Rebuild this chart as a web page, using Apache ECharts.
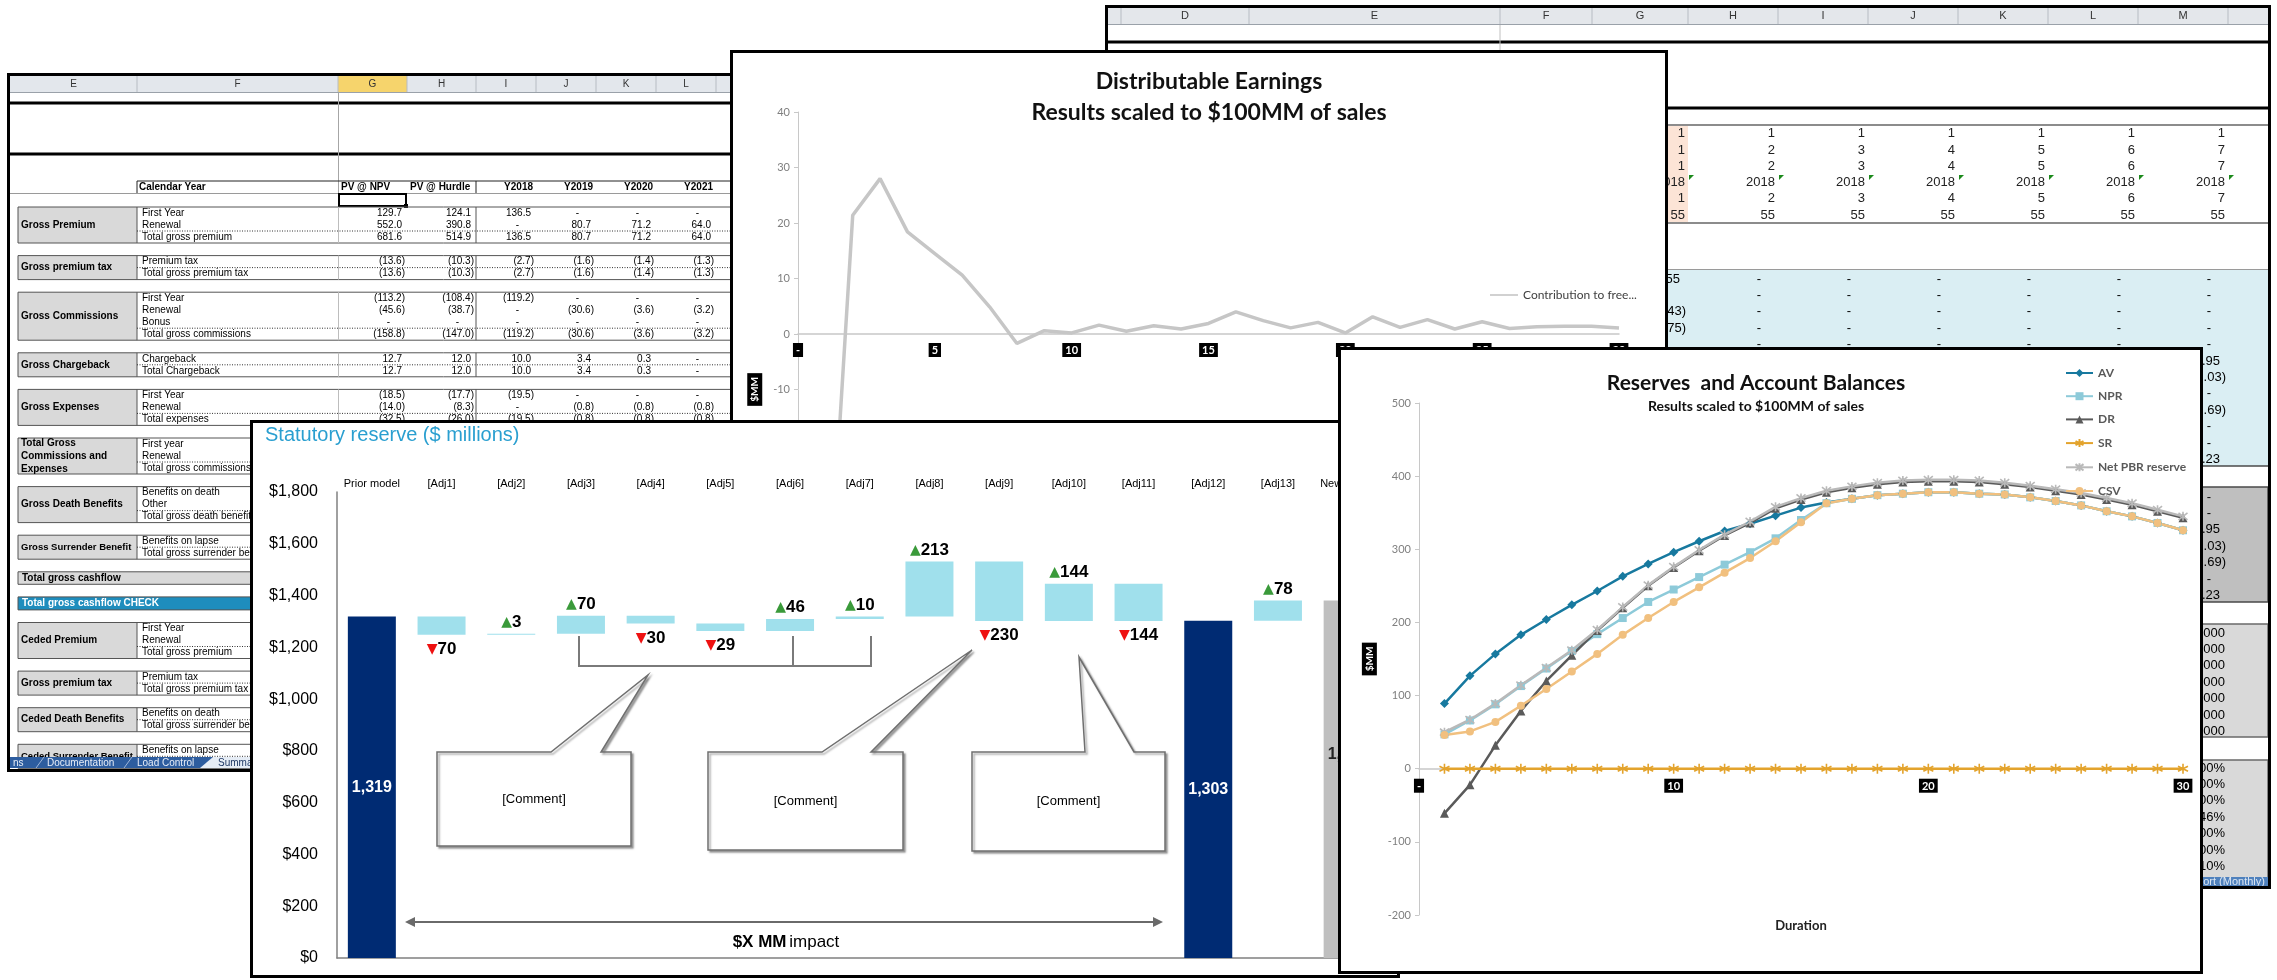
<!DOCTYPE html>
<html>
<head>
<meta charset="utf-8">
<title>Reserve and earnings summary</title>
<script src="https://cdn.jsdelivr.net/npm/echarts@6.0.0/dist/echarts.min.js"></script>
<style>
  html, body { margin: 0; padding: 0; background: #fff; }
  body { width: 2277px; height: 980px; position: relative; overflow: hidden; }
  .panel { position: absolute; box-sizing: border-box; border: 3px solid #000; background: #fff; }
</style>
</head>
<body>
<div id="sheetR" class="panel" style="left:1105px;top:5px;width:1166px;height:884px;z-index:1"></div>
<div id="sheetL" class="panel" style="left:7px;top:73px;width:745px;height:699px;z-index:2"></div>
<div id="de" class="panel" style="left:730px;top:50px;width:938px;height:760px;z-index:3"></div>
<div id="wf" class="panel" style="left:250px;top:420px;width:1150px;height:558px;z-index:4"></div>
<div id="rs" class="panel" style="left:1338px;top:347px;width:865px;height:627px;z-index:5"></div>
<script>
// ---------------- data ----------------

// Statutory reserve walk ($ millions)
const wfCategories = ['Prior model', '[Adj1]', '[Adj2]', '[Adj3]', '[Adj4]', '[Adj5]', '[Adj6]', '[Adj7]',
  '[Adj8]', '[Adj9]', '[Adj10]', '[Adj11]', '[Adj12]', '[Adj13]', 'New model'];
const wfChanges = [null, -70, 3, 70, -30, -29, 46, 10, 213, -230, 144, -144, null, 78, null];
const wfTotals  = [1319, null, null, null, null, null, null, null, null, null, null, null, 1303, null, 1381];
const wfAxisMax = 1800;
const wfAxisStep = 200;

// Distributable earnings by duration
const deDurations = [1, 2, 3, 4, 5, 6, 7, 8, 9, 10, 11, 12, 13, 14, 15, 16, 17, 18, 19, 20, 21, 22, 23, 24, 25, 26, 27, 28, 29, 30];
const deContribution = [-58, 21.4, 28.0, 18.4, 14.5, 10.6, 4.9, -1.7, 0.6, 0.2, 1.6, 0.5, 1.5, 0.9, 1.9,
  4.0, 2.4, 1.1, 2.1, 0.2, 3.1, 1.2, 2.6, 0.9, 2.2, 1.0, 1.3, 1.4, 1.4, 1.1];
const deYMin = -60, deYMax = 40;

// Reserves and account balances by duration
const rsDurations = deDurations;
const rsAV  = [89, 127, 157, 183, 204, 224, 243, 263, 280, 296, 311, 325, 335, 346, 357, 364, 369, 374, 376, 378, 378, 376, 375, 371, 366, 360, 352, 345, 336, 326];
const rsNPR = [47, 66, 88, 113, 137, 161, 184, 206, 228, 245, 262, 279, 296, 315, 340, 363, 369, 374, 376, 378, 378, 376, 375, 371, 366, 360, 352, 345, 336, 326];
const rsDR  = [-61, -22, 32, 79, 120, 155, 189, 220, 250, 275, 298, 319, 336, 356, 368, 378, 384, 389, 392, 393, 393, 392, 389, 385, 380, 375, 368, 361, 352, 343];
const rsSR  = [0, 0, 0, 0, 0, 0, 0, 0, 0, 0, 0, 0, 0, 0, 0, 0, 0, 0, 0, 0, 0, 0, 0, 0, 0, 0, 0, 0, 0, 0];
const rsPBR = [50, 67, 89, 114, 138, 162, 190, 221, 251, 276, 299, 320, 338, 358, 370, 380, 386, 391, 394, 395, 395, 394, 391, 387, 382, 377, 370, 363, 354, 345];
const rsCSV = [46, 51, 64, 86, 109, 133, 157, 183, 206, 228, 248, 268, 288, 311, 337, 363, 369, 374, 376, 378, 378, 376, 375, 371, 366, 360, 352, 345, 336, 326];
const rsYMin = -200, rsYMax = 500;

// Summary worksheet (left)
const sheetColumns = ['E', 'F', 'G', 'H', 'I', 'J', 'K', 'L', 'M'];
const sheetHeaders = ['PV @ NPV', 'PV @ Hurdle', 'Y2018', 'Y2019', 'Y2020', 'Y2021'];
const sheetGroups = [
  { label: 'Gross Premium', rows: [
    ['First Year', '129.7', '124.1', '136.5', '-', '-', '-'],
    ['Renewal', '552.0', '390.8', '-', '80.7', '71.2', '64.0'],
    ['Total gross premium', '681.6', '514.9', '136.5', '80.7', '71.2', '64.0']] },
  { label: 'Gross premium tax', rows: [
    ['Premium tax', '(13.6)', '(10.3)', '(2.7)', '(1.6)', '(1.4)', '(1.3)'],
    ['Total gross premium tax', '(13.6)', '(10.3)', '(2.7)', '(1.6)', '(1.4)', '(1.3)']] },
  { label: 'Gross Commissions', rows: [
    ['First Year', '(113.2)', '(108.4)', '(119.2)', '-', '-', '-'],
    ['Renewal', '(45.6)', '(38.7)', '-', '(30.6)', '(3.6)', '(3.2)'],
    ['Bonus', '-', '-', '-', '-', '-', '-'],
    ['Total gross commissions', '(158.8)', '(147.0)', '(119.2)', '(30.6)', '(3.6)', '(3.2)']] },
  { label: 'Gross Chargeback', rows: [
    ['Chargeback', '12.7', '12.0', '10.0', '3.4', '0.3', '-'],
    ['Total Chargeback', '12.7', '12.0', '10.0', '3.4', '0.3', '-']] },
  { label: 'Gross Expenses', rows: [
    ['First Year', '(18.5)', '(17.7)', '(19.5)', '-', '-', '-'],
    ['Renewal', '(14.0)', '(8.3)', '-', '(0.8)', '(0.8)', '(0.8)'],
    ['Total expenses', '(32.5)', '(26.0)', '(19.5)', '(0.8)', '(0.8)', '(0.8)']] },
  { label: 'Total Gross\nCommissions and\nExpenses', rows: [['First year'], ['Renewal'], ['Total gross commissions and expenses']] },
  { label: 'Gross Death Benefits', rows: [['Benefits on death'], ['Other'], ['Total gross death benefits']] },
  { label: 'Gross Surrender Benefit', fs: 9.5, rows: [['Benefits on lapse'], ['Total gross surrender benefits']] },
  { band: 'Total gross cashflow', fill: '#d9d9d9', color: '#000' },
  { band: 'Total gross cashflow CHECK', fill: '#1e8dbd', color: '#fff' },
  { label: 'Ceded Premium', rows: [['First Year'], ['Renewal'], ['Total gross premium']] },
  { label: 'Gross premium tax', rows: [['Premium tax'], ['Total gross premium tax']] },
  { label: 'Ceded Death Benefits', rows: [['Benefits on death'], ['Total gross surrender benefits']] },
  { label: 'Ceded Surrender Benefit', fs: 9.5, rows: [['Benefits on lapse'], ['Total gross surrender benefits']] }
];
const sheetTabs = ['ns', 'Documentation', 'Load Control', 'Summary'];

// Projection worksheet (right)
const projColumns = ['', 'D', 'E', 'F', 'G', 'H', 'I', 'J', 'K', 'L', 'M', 'N'];
const projIndexRows = [
  ['1', '1', '1', '1', '1', '1', '1'],
  ['1', '2', '3', '4', '5', '6', '7'],
  ['1', '2', '3', '4', '5', '6', '7'],
  ['2018', '2018', '2018', '2018', '2018', '2018', '2018'],
  ['1', '2', '3', '4', '5', '6', '7'],
  ['55', '55', '55', '55', '55', '55', '55']
];
const projBlueRows = [
  ['0.55', '-', '-', '-', '-', '-', '-'],
  ['', '-', '-', '-', '-', '-', '-'],
  ['(0.43)', '-', '-', '-', '-', '-', '-'],
  ['(0.75)', '-', '-', '-', '-', '-', '-'],
  ['', '-', '-', '-', '-', '-', '-'],
  ['-', '-', '-', '-', '-', '-', '1.95'],
  ['-', '-', '-', '-', '-', '-', '(0.03)'],
  ['-', '-', '-', '-', '-', '-', '-'],
  ['-', '-', '-', '-', '-', '-', '(0.69)'],
  ['-', '-', '-', '-', '-', '-', '-'],
  ['-', '-', '-', '-', '-', '-', '-'],
  ['-', '-', '-', '-', '-', '-', '1.23']
];
const projGrayRows = ['-', '-', '1.95', '(0.03)', '(0.69)', '-', '1.23'];
const projFactorRows = ['1.000', '1.000', '1.000', '1.000', '1.000', '1.000', '1.000'];
const projPctRows = ['100%', '100%', '100%', '46%', '100%', '100%', '10%'];

// ---------------- helpers ----------------
const ARIAL = '"Liberation Sans", Arial, sans-serif';
const NARROW = '"Liberation Sans Narrow", "Liberation Sans", sans-serif';
const CAL = 'Lato, "Open Sans", sans-serif';

// Collects graphic elements given in page coordinates, shifted into a panel's own space.
function shapeSet(ox, oy) {
  const els = [];
  let k = 0;
  return {
    els,
    rect(x, y, w, h, style) {
      els.push({ type: 'rect', silent: true, z2: k++, shape: { x: x - ox, y: y - oy, width: w, height: h }, style });
    },
    line(x1, y1, x2, y2, style) {
      els.push({ type: 'line', silent: true, z2: k++, shape: { x1: x1 - ox, y1: y1 - oy, x2: x2 - ox, y2: y2 - oy }, style });
    },
    poly(pts, style, closed) {
      els.push({ type: closed ? 'polygon' : 'polyline', silent: true, z2: k++,
        shape: { points: pts.map(p => [p[0] - ox, p[1] - oy]) }, style });
    },
    text(x, y, str, style) {
      els.push({ type: 'text', silent: true, z2: k++, x: x - ox, y: y - oy,
        style: Object.assign({ text: str, fill: '#000', align: 'left', verticalAlign: 'middle',
          fontFamily: ARIAL, fontSize: 10 }, style) });
    }
  };
}

// Accounting-style placement of a cell value against its column's right edge.
function cellValue(s, right, y, v, font, size, posPad) {
  if (!v) return;
  let x;
  if (v === '-') x = right - 17;
  else if (v.endsWith(')')) x = right - 2;
  else x = right - posPad;
  s.text(x, y, v, { align: 'right', fontFamily: font, fontSize: size });
}

// ---------------- right worksheet ----------------
(function () {
  const s = shapeSet(1108, 8);
  const edges = [1108, 1121, 1249, 1500, 1592, 1688, 1778, 1868, 1958, 2048, 2138, 2228, 2318];
  s.rect(1108, 8, 1160, 16, { fill: '#e4e7eb' });
  for (let i = 0; i < projColumns.length; i++) {
    s.line(edges[i + 1], 8, edges[i + 1], 24, { stroke: '#b7bcc3', lineWidth: 1 });
    if (projColumns[i]) s.text((edges[i] + edges[i + 1]) / 2, 16, projColumns[i],
      { align: 'center', fill: '#333', fontSize: 11 });
  }
  s.line(1108, 24.5, 2268, 24.5, { stroke: '#9aa1a9', lineWidth: 1 });
  s.line(1108, 42, 2268, 42, { stroke: '#000', lineWidth: 3 });
  s.line(1500, 25, 1500, 108, { stroke: '#c0c0c0', lineWidth: 1 });
  s.line(1108, 108, 2268, 108, { stroke: '#000', lineWidth: 3 });

  // index block
  s.rect(1592, 126, 96, 97, { fill: '#fce4d6' });
  s.line(1108, 125, 2268, 125, { stroke: '#8c8c8c', lineWidth: 2 });
  s.line(1108, 223, 2268, 223, { stroke: '#8c8c8c', lineWidth: 2 });
  const idxY = [133, 150, 166, 182, 198, 215];
  projIndexRows.forEach((row, r) => {
    row.forEach((v, c) => {
      s.text(edges[c + 5] - 3, idxY[r], v, { align: 'right', fontFamily: NARROW, fontSize: 13, fill: '#222' });
      if (r === 3) {
        const gx = edges[c + 5] + 1;
        s.poly([[gx, 175], [gx + 5, 175], [gx, 180]], { fill: '#1c8a1c' }, true);
      }
    });
  });

  // shaded result blocks
  s.line(1108, 269.5, 2268, 269.5, { stroke: '#9a9a9a', lineWidth: 1 });
  s.rect(1108, 270, 1160, 196, { fill: '#daeef3' });
  s.line(1108, 466, 2268, 466, { stroke: '#4a4a4a', lineWidth: 1.5 });
  projBlueRows.forEach((row, r) => {
    row.forEach((v, c) => cellValue(s, edges[c + 5], 279 + 16.4 * r, v, NARROW, 13, 8));
  });

  s.rect(1108, 487, 1160, 115, { fill: '#bfbfbf', stroke: '#4a4a4a', lineWidth: 1.5 });
  projGrayRows.forEach((v, r) => {
    for (let c = 1; c < 6; c++) cellValue(s, edges[c + 5], 497 + 16.4 * r, '-', NARROW, 13, 8);
    cellValue(s, edges[11], 497 + 16.4 * r, v, NARROW, 13, 8);
  });

  s.rect(1108, 624, 1160, 113, { fill: '#d9d9d9', stroke: '#6a6a6a', lineWidth: 1.5 });
  projFactorRows.forEach((v, r) => {
    for (let c = 1; c < 7; c++) s.text(edges[c + 5] - 3, 633 + 16.4 * r, v, { align: 'right', fontFamily: NARROW, fontSize: 13 });
  });

  s.rect(1108, 760, 1160, 118, { fill: '#d9d9d9', stroke: '#6a6a6a', lineWidth: 1.5 });
  projPctRows.forEach((v, r) => {
    for (let c = 1; c < 7; c++) s.text(edges[c + 5] - 3, 768 + 16.4 * r, v, { align: 'right', fontFamily: NARROW, fontSize: 13 });
  });

  // sheet tab strip
  s.rect(1108, 877, 1160, 10, { fill: '#4f81bd' });
  s.text(2183, 882, 'Report (Monthly)', { fill: '#dce6f2', fontSize: 11 });

  echarts.init(document.getElementById('sheetR'), null, { renderer: 'canvas' })
    .setOption({ animation: false, graphic: { elements: s.els } });
})();

// ---------------- left worksheet ----------------
(function () {
  const s = shapeSet(10, 76);
  const edges = [10, 137, 338, 407, 476, 536, 596, 656, 716, 776];
  const valRight = [407, 476, 536, 596, 656, 716];
  s.rect(10, 76, 740, 16, { fill: '#e3e7ec' });
  s.rect(338, 76, 69, 16, { fill: '#f6d46c' });
  for (let i = 0; i < sheetColumns.length; i++) {
    s.line(edges[i + 1], 76, edges[i + 1], 92, { stroke: '#b7bcc3', lineWidth: 1 });
    s.text((edges[i] + edges[i + 1]) / 2, 84, sheetColumns[i], { align: 'center', fill: '#333', fontSize: 10 });
  }
  s.line(10, 92.5, 750, 92.5, { stroke: '#9aa1a9', lineWidth: 1 });
  s.line(10, 103, 750, 103, { stroke: '#000', lineWidth: 3 });
  s.line(10, 154, 750, 154, { stroke: '#000', lineWidth: 3 });
  s.line(338.5, 93, 338.5, 207, { stroke: '#a6a6a6', lineWidth: 1 });

  // header row
  s.line(137, 181, 750, 181, { stroke: '#222', lineWidth: 1 });
  s.line(10, 193.5, 750, 193.5, { stroke: '#9a9a9a', lineWidth: 1 });
  s.line(137, 181, 137, 193, { stroke: '#222', lineWidth: 1 });
  s.line(476, 181, 476, 193, { stroke: '#222', lineWidth: 1 });
  s.text(139, 187, 'Calendar Year', { fontWeight: 'bold' });
  s.text(341, 187, sheetHeaders[0], { fontWeight: 'bold' });
  s.text(410, 187, sheetHeaders[1], { fontWeight: 'bold' });
  for (let i = 2; i < sheetHeaders.length; i++) s.text(valRight[i] - 3, 187, sheetHeaders[i], { fontWeight: 'bold', align: 'right' });
  s.rect(339, 194, 67, 12, { fill: 'none', stroke: '#000', lineWidth: 2 });
  s.rect(404, 204, 4, 4, { fill: '#000' });

  // grouped rows
  const rowH = 12, gap = 12.6;
  let y = 207;
  sheetGroups.forEach(g => {
    if (g.band) {
      const h = g.band.endsWith('CHECK') ? 13 : 12.5;
      s.rect(18, y, 732, h, { fill: g.fill, stroke: '#555', lineWidth: 1 });
      s.text(22, y + h / 2, g.band, { fontWeight: 'bold', fill: g.color });
      y += h + gap;
      return;
    }
    const h = g.rows.length * rowH;
    s.rect(18, y, 119, h, { fill: '#d9d9d9', stroke: '#555', lineWidth: 1 });
    s.line(137, y, 750, y, { stroke: '#555', lineWidth: 1 });
    s.line(137, y + h, 750, y + h, { stroke: '#555', lineWidth: 1 });
    s.line(338.5, y, 338.5, y + h, { stroke: '#bdbdbd', lineWidth: 1 });
    s.line(476, y, 476, y + h, { stroke: '#555', lineWidth: 1 });
    if (g.rows.length > 1) s.line(137, y + h - rowH, 750, y + h - rowH, { stroke: '#333', lineWidth: 1, lineDash: [1, 1.5] });
    s.text(21, y + h / 2, g.label, { fontWeight: 'bold', fontSize: g.fs || 10, lineHeight: 13 });
    g.rows.forEach((row, r) => {
      const ry = y + rowH / 2 + r * rowH;
      s.text(142, ry, row[0]);
      for (let c = 1; c < row.length; c++) cellValue(s, valRight[c - 1], ry, row[c], ARIAL, 10, 5);
    });
    y += h + gap;
  });

  // sheet tab strip
  s.rect(10, 757, 740, 11, { fill: '#2d5d9f' });
  s.poly([[200, 768], [213, 757], [750, 757], [750, 768]], { fill: '#e6edf6' }, true);
  s.line(36, 768, 44, 757, { stroke: '#9fb6d8', lineWidth: 1 });
  s.line(124, 768, 132, 757, { stroke: '#9fb6d8', lineWidth: 1 });
  s.text(13, 763, sheetTabs[0], { fill: '#e8eef8' });
  s.text(47, 763, sheetTabs[1], { fill: '#e8eef8' });
  s.text(137, 763, sheetTabs[2], { fill: '#e8eef8' });
  s.text(218, 763, sheetTabs[3], { fill: '#1f3864' });

  echarts.init(document.getElementById('sheetL'), null, { renderer: 'canvas' })
    .setOption({ animation: false, graphic: { elements: s.els } });
})();

// Black tag style used for the duration labels and the $MM axis titles
const blackTag = { backgroundColor: '#000', color: '#fff', fontWeight: 'bold', fontFamily: CAL, fontSize: 11, padding: [2, 3, 1, 3] };

// ---------------- distributable earnings ----------------
(function () {
  const gridH = 555;
  // the duration axis sits on the zero line, lifted from the grid's bottom edge
  const zeroLift = gridH * (0 - deYMin) / (deYMax - deYMin);
  const chart = echarts.init(document.getElementById('de'), null, { renderer: 'canvas' });
  chart.setOption({
    animation: false,
    grid: { left: 65, top: 59, width: 821, height: gridH, outerBoundsMode: 'none' },
    title: [
      { text: 'Distributable Earnings', left: 471, top: 12, textAlign: 'center',
        textStyle: { fontFamily: CAL, fontWeight: 'bold', fontSize: 23, color: '#111' } },
      { text: 'Results scaled to $100MM of sales', left: 471, top: 43, textAlign: 'center',
        textStyle: { fontFamily: CAL, fontWeight: 'bold', fontSize: 23, color: '#111' } }
    ],
    legend: {
      left: 752, top: 231, itemWidth: 28, itemHeight: 8, icon: 'path://M0,3.2L28,3.2L28,4.8L0,4.8Z',
      textStyle: { fontFamily: CAL, fontSize: 12, color: '#404040' }
    },
    xAxis: {
      type: 'value', min: 0, max: 30, interval: 5, offset: -zeroLift,
      axisLine: { onZero: false, lineStyle: { color: '#c8c8c8', width: 1.5 } },
      axisTick: { show: false }, splitLine: { show: false },
      axisLabel: Object.assign({ margin: 9, formatter: v => (v === 0 ? '-' : String(v)) }, blackTag)
    },
    yAxis: {
      type: 'value', min: deYMin, max: deYMax, interval: 10,
      name: '$MM', nameLocation: 'middle', nameRotate: 90, nameGap: 32,
      nameTextStyle: Object.assign({}, blackTag, { fontSize: 10, padding: [3, 4, 2, 4] }),
      axisLine: { show: true, lineStyle: { color: '#c8c8c8', width: 1 } },
      axisTick: { show: true, length: 4, lineStyle: { color: '#c8c8c8' } },
      splitLine: { show: false },
      axisLabel: { color: '#7f7f7f', fontFamily: CAL, fontSize: 11, margin: 8 }
    },
    series: [{
      name: 'Contribution to free...', type: 'line', symbol: 'none',
      data: deDurations.map((d, i) => [d, deContribution[i]]),
      lineStyle: { color: '#c6c6c6', width: 3.5 }, itemStyle: { color: '#c6c6c6' }
    }]
  });
})();

// ---------------- statutory reserve walk ----------------
(function () {
  const base = [], bars = [];
  let level = 0;
  const last = wfCategories.length - 1;
  wfCategories.forEach((c, i) => {
    if (wfTotals[i] != null) {
      level = wfTotals[i];
      base.push(0);
      const grey = i === last;
      bars.push({
        value: wfTotals[i],
        itemStyle: { color: grey ? '#bfbfbf' : '#002b73' },
        label: { show: true, position: 'inside', offset: grey ? [0, -25] : [0, 0],
          formatter: p => p.value.toLocaleString('en-US'),
          color: grey ? '#222' : '#fff', fontWeight: 'bold', fontSize: 16, fontFamily: ARIAL }
      });
    } else {
      const ch = wfChanges[i];
      base.push(Math.min(level, level + ch));
      bars.push({
        value: Math.abs(ch),
        itemStyle: { color: '#a0e0ec' },
        label: { show: true, position: ch > 0 ? 'top' : 'bottom', distance: ch > 0 ? 3 : 6,
          formatter: (ch > 0 ? '{up|▲}' : '{dn|▼}') + '{n|' + Math.abs(ch) + '}' }
      });
      level += ch;
    }
  });

  // callouts and annotation marks
  const s = shapeSet(253, 423);
  const grey = { stroke: '#7a7a7a', lineWidth: 2, fill: 'none' };
  s.poly([[579, 636], [579, 666], [871, 666], [871, 636]], grey, false);
  s.line(793, 636, 793, 666, grey);
  const boxStyle = { fill: '#fff', stroke: '#6f6f6f', lineWidth: 1.5,
    shadowColor: 'rgba(0,0,0,0.35)', shadowOffsetX: 2, shadowOffsetY: 2, shadowBlur: 2 };
  const callouts = [
    { box: [437, 752, 631, 846], base: [551, 601], tip: [648, 675] },
    { box: [708, 752, 903, 850], base: [822, 871], tip: [972, 650] },
    { box: [972, 752, 1165, 851], base: [1085, 1134], tip: [1079, 657] }
  ];
  callouts.forEach(c => {
    const [x1, y1, x2, y2] = c.box;
    s.poly([[x1, y1], [c.base[0], y1], c.tip, [c.base[1], y1], [x2, y1], [x2, y2], [x1, y2]], boxStyle, true);
    s.text((x1 + x2) / 2, (y1 + y2) / 2, '[Comment]', { align: 'center', fontSize: 13, fontFamily: ARIAL });
  });
  const arrow = { stroke: '#6a6a6a', lineWidth: 2 };
  s.line(412, 922, 1156, 922, arrow);
  s.poly([[405, 922], [415, 917], [415, 927]], { fill: '#6a6a6a' }, true);
  s.poly([[1163, 922], [1153, 917], [1153, 927]], { fill: '#6a6a6a' }, true);
  s.text(786, 942, '{b|$X MM} {r|impact}', { align: 'center',
    rich: { b: { fontWeight: 'bold', fontSize: 17, fontFamily: ARIAL, fill: '#000' },
            r: { fontSize: 17, fontFamily: ARIAL, fill: '#000' } } });
  s.text(265, 435, 'Statutory reserve ($ millions)', { fontSize: 20, fill: '#2a9fd0' });

  const chart = echarts.init(document.getElementById('wf'), null, { renderer: 'canvas' });
  chart.setOption({
    animation: false,
    grid: { left: 84, top: 69, width: 1045.5, height: 466, outerBoundsMode: 'none' },
    xAxis: [
      { type: 'category', data: wfCategories, position: 'bottom',
        axisLine: { lineStyle: { color: '#808080', width: 1.5 } },
        axisTick: { show: false }, axisLabel: { show: false } },
      { type: 'category', data: wfCategories, position: 'top',
        axisLine: { show: false }, axisTick: { show: false },
        axisLabel: { interval: 0, margin: 3, fontSize: 11, fontFamily: ARIAL, color: '#000' } }
    ],
    yAxis: {
      type: 'value', min: 0, max: wfAxisMax, interval: wfAxisStep,
      axisLine: { show: true, lineStyle: { color: '#808080', width: 1.5 } },
      axisTick: { show: false }, splitLine: { show: false },
      axisLabel: { margin: 19, fontSize: 16, fontFamily: ARIAL, color: '#000',
        formatter: v => '$' + v.toLocaleString('en-US') }
    },
    series: [
      { type: 'bar', stack: 'walk', data: base, barWidth: 48, silent: true,
        itemStyle: { color: 'rgba(0,0,0,0)' } },
      { type: 'bar', stack: 'walk', data: bars, barWidth: 48,
        label: { rich: {
          up: { color: '#3a9a3a', fontSize: 14, fontFamily: '"DejaVu Sans", sans-serif' },
          dn: { color: '#ee1111', fontSize: 14, fontFamily: '"DejaVu Sans", sans-serif' },
          n: { color: '#000', fontWeight: 'bold', fontSize: 17, fontFamily: ARIAL }
        } } }
    ],
    graphic: { elements: s.els }
  });
})();

// ---------------- reserves and account balances ----------------
(function () {
  const gridH = 512;
  const zeroLift = gridH * (0 - rsYMin) / (rsYMax - rsYMin);
  const asterisk = 'path://M5,0L5,10M0.7,2.5L9.3,7.5M0.7,7.5L9.3,2.5';
  const xstar = 'path://M1,1L9,9M1,9L9,1M5,0L5,10';
  const mk = (name, data, color, symbol, size, stroke) => ({
    name, type: 'line', data: rsDurations.map((d, i) => [d, data[i]]),
    symbol, symbolSize: size, showSymbol: true,
    lineStyle: { color, width: 2.5 },
    itemStyle: stroke ? { color: 'none', borderColor: color, borderWidth: 1.6 } : { color, borderWidth: 0 }
  });
  const chart = echarts.init(document.getElementById('rs'), null, { renderer: 'canvas' });
  chart.setOption({
    animation: false,
    grid: { left: 78, top: 53, width: 764, height: gridH, outerBoundsMode: 'none' },
    title: [
      { text: 'Reserves  and Account Balances', left: 410, top: 18, textAlign: 'center',
        textStyle: { fontFamily: CAL, fontWeight: 'bold', fontSize: 21, color: '#111' } },
      { text: 'Results scaled to $100MM of sales', left: 410, top: 44, textAlign: 'center',
        textStyle: { fontFamily: CAL, fontWeight: 'bold', fontSize: 14, color: '#111' } }
    ],
    legend: {
      orient: 'vertical', left: 719, top: 12, itemWidth: 27, itemHeight: 10, itemGap: 11.2,
      textStyle: { fontFamily: CAL, fontSize: 12, color: '#595959', fontWeight: 'bold' }
    },
    xAxis: {
      type: 'value', min: 0, max: 30, interval: 10, offset: -zeroLift,
      axisLine: { onZero: false, lineStyle: { color: '#c8c8c8', width: 1.5 } },
      axisTick: { show: false }, splitLine: { show: false },
      axisLabel: Object.assign({ margin: 10, formatter: v => (v === 0 ? '-' : String(v)) }, blackTag)
    },
    yAxis: {
      type: 'value', min: rsYMin, max: rsYMax, interval: 100,
      name: '$MM', nameLocation: 'middle', nameRotate: 90, nameGap: 38,
      nameTextStyle: Object.assign({}, blackTag, { fontSize: 10, padding: [3, 4, 2, 4] }),
      axisLine: { show: true, lineStyle: { color: '#c8c8c8', width: 1 } },
      axisTick: { show: true, length: 4, lineStyle: { color: '#c8c8c8' } },
      splitLine: { show: false },
      axisLabel: { color: '#7f7f7f', fontFamily: CAL, fontSize: 11, margin: 8 }
    },
    series: [
      mk('AV', rsAV, '#17799f', 'diamond', 9),
      mk('NPR', rsNPR, '#8dcad9', 'rect', 8),
      mk('DR', rsDR, '#5a5a5a', 'triangle', 9),
      mk('SR', rsSR, '#e3a32c', asterisk, 10, true),
      mk('Net PBR reserve', rsPBR, '#b9b9b9', xstar, 9, true),
      mk('CSV', rsCSV, '#f1c07f', 'circle', 8)
    ],
    graphic: { elements: [{ type: 'text', silent: true, x: 1801 - 1341, y: 926 - 350,
      style: { text: 'Duration', align: 'center', verticalAlign: 'middle', fill: '#222',
        fontFamily: CAL, fontWeight: 'bold', fontSize: 13 } }] }
  });
})();
</script>
</body>
</html>
